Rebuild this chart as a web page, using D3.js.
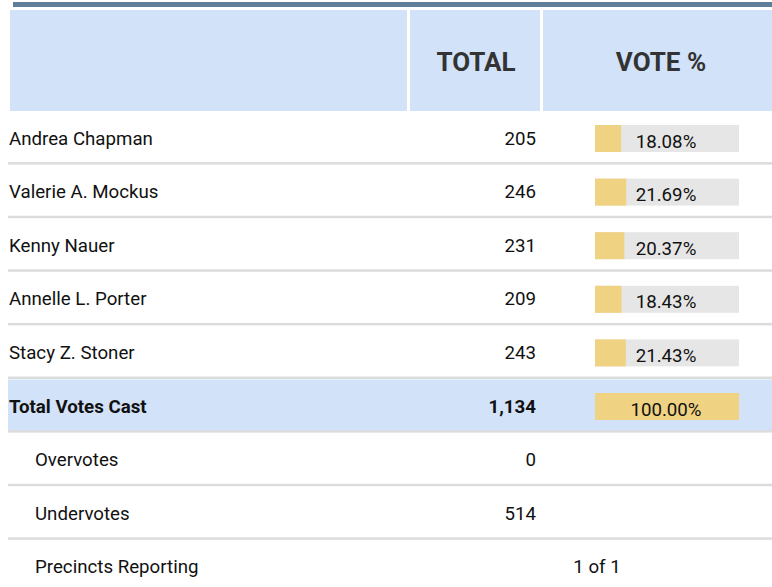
<!DOCTYPE html>
<html>
<head>
<meta charset="utf-8">
<script src="https://cdn.jsdelivr.net/npm/d3@7"></script>
<style>
  body { margin: 0; background: #fff; }
  svg { display: block; font-family: Roboto, sans-serif; }
</style>
</head>
<body>
<div id="chart"></div>
<script>
const candidates = ['Andrea Chapman', 'Valerie A. Mockus', 'Kenny Nauer', 'Annelle L. Porter', 'Stacy Z. Stoner'];
const votes = [205, 246, 231, 209, 243];
const percents = [18.08, 21.69, 20.37, 18.43, 21.43];
const totalLabel = 'Total Votes Cast';
const totalVotes = 1134;
const totalPercent = 100;
const extraLabels = ['Overvotes', 'Undervotes'];
const extraValues = [0, 514];
const precinctsLabel = 'Precincts Reporting';
const precinctsValue = '1 of 1';
const headers = ['TOTAL', 'VOTE %'];

const width = 772;
const height = 587;
const fontSize = 18.7;

const svg = d3.select('#chart')
  .append('svg')
  .attr('width', width)
  .attr('height', height);

// rows: candidates, total, over/under, precincts
const rows = [
  ...candidates.map((name, i) => ({ key: name, label: name, value: d3.format(',')(votes[i]), pct: percents[i], type: 'cand' })),
  { key: 'total', label: totalLabel, value: d3.format(',')(totalVotes), pct: totalPercent, type: 'total' },
  ...extraLabels.map((name, i) => ({ key: name, label: name, value: d3.format(',')(extraValues[i]), type: 'extra' })),
  { key: 'precincts', label: precinctsLabel, value: precinctsValue, type: 'precincts' }
];

const step = 53.6;
const y = d3.scaleBand()
  .domain(rows.map(d => d.key))
  .range([111, 111 + step * rows.length])
  .paddingInner(0)
  .paddingOuter(0);

const x = d3.scaleLinear().domain([0, 100]).range([0, 144]);
const barLeft = 595;
const barH = 27;
const textY = 33.5;

// top rule
svg.append('rect')
  .attr('x', 13).attr('y', 2)
  .attr('width', width - 13).attr('height', 5)
  .attr('fill', '#5e7e99');

// header cells
const headCols = [[10, 407], [410, 540], [543, width]];
svg.append('g').selectAll('rect')
  .data(headCols)
  .join('rect')
  .attr('x', d => d[0]).attr('y', 10)
  .attr('width', d => d[1] - d[0]).attr('height', 101)
  .attr('fill', '#d2e2f9');

svg.append('g').selectAll('text')
  .data(headers)
  .join('text')
  .attr('x', (d, i) => i === 0 ? 476 : 661)
  .attr('y', 71)
  .attr('text-anchor', 'middle')
  .attr('font-size', 26)
  .attr('font-weight', 'bold')
  .attr('fill', '#333')
  .text(d => d);

const g = svg.append('g')
  .selectAll('g')
  .data(rows)
  .join('g')
  .attr('transform', d => `translate(0, ${y(d.key)})`);

// total row background
g.filter(d => d.type === 'total')
  .append('rect')
  .attr('x', 8).attr('y', 0.5)
  .attr('width', width - 8).attr('height', y.bandwidth() - 3)
  .attr('fill', '#d2e2f9');

// separators under each row except the last
g.filter((d, i) => i < rows.length - 1)
  .append('rect')
  .attr('x', 8).attr('y', y.bandwidth() - 2.5)
  .attr('width', width - 8).attr('height', 2.5)
  .attr('fill', '#dcdcdc');

g.append('text')
  .attr('x', d => d.type === 'extra' || d.type === 'precincts' ? 35 : 9)
  .attr('y', textY)
  .attr('font-size', fontSize)
  .attr('font-weight', d => d.type === 'total' ? 'bold' : 'normal')
  .attr('fill', '#111')
  .text(d => d.label);

g.filter(d => d.type !== 'precincts')
  .append('text')
  .attr('x', 536)
  .attr('y', textY)
  .attr('text-anchor', 'end')
  .attr('font-size', fontSize)
  .attr('font-weight', d => d.type === 'total' ? 'bold' : 'normal')
  .attr('fill', '#111')
  .text(d => d.value);

g.filter(d => d.type === 'precincts')
  .append('text')
  .attr('x', 597)
  .attr('y', textY)
  .attr('text-anchor', 'middle')
  .attr('font-size', fontSize)
  .attr('fill', '#111')
  .text(d => d.value);

// vote % bars
const bars = g.filter(d => d.pct != null);
bars.append('rect')
  .attr('x', barLeft).attr('y', 14)
  .attr('width', x(100)).attr('height', barH)
  .attr('fill', '#e6e6e6');
bars.append('rect')
  .attr('x', barLeft).attr('y', 14)
  .attr('width', d => x(d.pct)).attr('height', barH)
  .attr('fill', '#f0d283');
bars.append('text')
  .attr('x', barLeft + x(50) - 1)
  .attr('y', 36.5)
  .attr('text-anchor', 'middle')
  .attr('font-size', fontSize)
  .attr('fill', '#111')
  .text(d => d3.format('.2f')(d.pct) + '%');
</script>
</body>
</html>
